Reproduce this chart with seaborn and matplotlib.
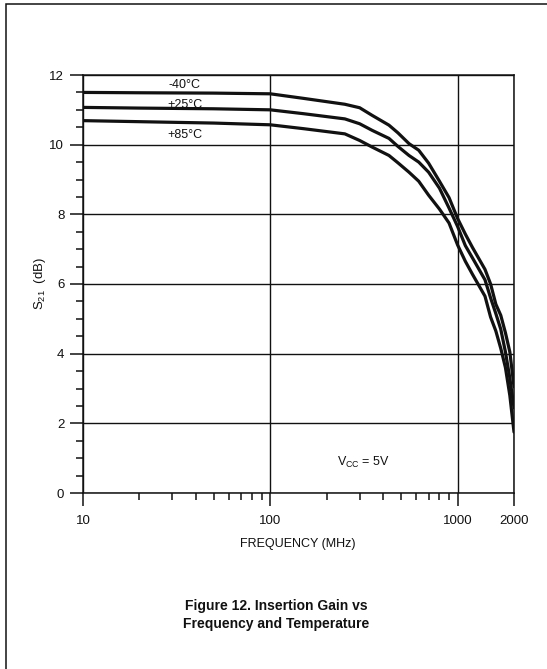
import numpy as np
import pandas as pd
import matplotlib
matplotlib.use("Agg")
import matplotlib.pyplot as plt
from matplotlib.ticker import FixedLocator, NullFormatter, MultipleLocator
from matplotlib.patches import Rectangle
import seaborn as sns

# Insertion gain S21 (dB) versus frequency (MHz) at three temperatures
freq_mhz = [10, 20, 50, 100, 150, 250, 300, 350, 430, 480, 550, 620, 700,
            800, 900, 1000, 1100, 1200, 1400, 1500, 1600, 1700, 1800, 1900, 2000]
gain_m40 = [11.50, 11.49, 11.48, 11.46, 11.33, 11.16, 11.06, 10.84, 10.56, 10.34,
            10.03, 9.84, 9.47, 8.95, 8.48, 7.88, 7.43, 7.05, 6.42, 6.00,
            5.42, 5.10, 4.60, 4.05, 3.05]
gain_p25 = [11.07, 11.05, 11.03, 11.00, 10.89, 10.74, 10.60, 10.41, 10.18, 9.95,
            9.69, 9.50, 9.21, 8.75, 8.18, 7.65, 7.10, 6.75, 6.12, 5.60,
            5.15, 4.70, 4.05, 3.30, 2.45]
gain_p85 = [10.69, 10.66, 10.62, 10.57, 10.46, 10.31, 10.12, 9.93, 9.69, 9.48,
            9.21, 8.95, 8.55, 8.15, 7.75, 7.12, 6.65, 6.28, 5.65, 5.05,
            4.65, 4.15, 3.60, 2.80, 1.75]
temp_labels = ["-40°C", "+25°C", "+85°C"]
label_freq = [35, 35, 35]
label_gain = [11.71, 11.14, 10.28]

x_major = [10, 100, 1000, 2000]
x_major_labels = ["10", "100", "1000", "2000"]
x_minor = [20, 30, 40, 50, 60, 70, 80, 90, 200, 300, 400, 500, 600, 700, 800, 900]
y_major = [0, 2, 4, 6, 8, 10, 12]

df = pd.DataFrame({
    "freq": freq_mhz * 3,
    "gain": gain_m40 + gain_p25 + gain_p85,
    "temp": [t for t in temp_labels for _ in freq_mhz],
})

sns.set_style("ticks")
plt.rcParams["font.family"] = ["Liberation Sans", "DejaVu Sans"]
plt.rcParams["mathtext.fontset"] = "custom"
plt.rcParams["mathtext.rm"] = "Liberation Sans"

W, H = 547, 669
fig = plt.figure(figsize=(W / 100, H / 100), dpi=100)
ax = fig.add_axes([83 / W, 1 - 493 / H, (514 - 83) / W, (493 - 75) / H])

ink = "#111111"
sns.lineplot(data=df, x="freq", y="gain", hue="temp", palette=[ink] * 3,
             linewidth=2.3, legend=False, ax=ax, zorder=3)

ax.set_xscale("log")
ax.set_xlim(10, 2000)
ax.set_ylim(0, 12)

ax.xaxis.set_major_locator(FixedLocator(x_major))
ax.set_xticklabels(x_major_labels)
ax.xaxis.set_minor_locator(FixedLocator(x_minor))
ax.xaxis.set_minor_formatter(NullFormatter())
ax.yaxis.set_major_locator(FixedLocator(y_major))
ax.yaxis.set_minor_locator(MultipleLocator(0.5))

ax.tick_params(axis="both", which="both", bottom=True, left=True,
               top=False, right=False)
ax.tick_params(axis="both", which="major", direction="out", length=9.5,
               width=1.1, color=ink, labelsize=9.5, labelcolor=ink)
ax.tick_params(axis="x", which="major", pad=6)
ax.tick_params(axis="y", which="major", pad=4)
ax.tick_params(axis="both", which="minor", direction="out", length=5,
               width=1.1, color=ink)

ax.grid(True, which="major", color=ink, linewidth=1.0)
for side in ["left", "right", "top", "bottom"]:
    ax.spines[side].set_visible(True)
    ax.spines[side].set_color(ink)
    ax.spines[side].set_linewidth(1.1)

ax.set_xlabel("")
ax.set_ylabel("")

for lab, fx, gy in zip(temp_labels, label_freq, label_gain):
    ax.text(fx, gy, lab, ha="center", va="center", fontsize=9, color=ink)

ax.text(313, 0.89, r"V$_{\mathregular{CC}}$ = 5V", ha="center", va="center",
        fontsize=9, color=ink)

fig.text(298 / W, 1 - 544 / H, "FREQUENCY (MHz)", ha="center", va="center",
         fontsize=9, color=ink)
fig.text(40 / W, 1 - 283 / H, r"S$_{\mathregular{21}}$  (dB)", ha="center",
         va="center", rotation=90, fontsize=9.5, color=ink)

fig.text(276 / W, 1 - 615 / H,
         "Figure 12. Insertion Gain vs\nFrequency and Temperature",
         ha="center", va="center", fontsize=10, fontweight="bold",
         linespacing=1.45, color=ink)

# page frame around the figure
fig.patches.append(Rectangle((6 / W, -0.05), 1.2, 1.05 - 4 / H,
                             transform=fig.transFigure, fill=False,
                             edgecolor=ink, linewidth=1.1))

fig.savefig("out.png", dpi=100, facecolor="white")
